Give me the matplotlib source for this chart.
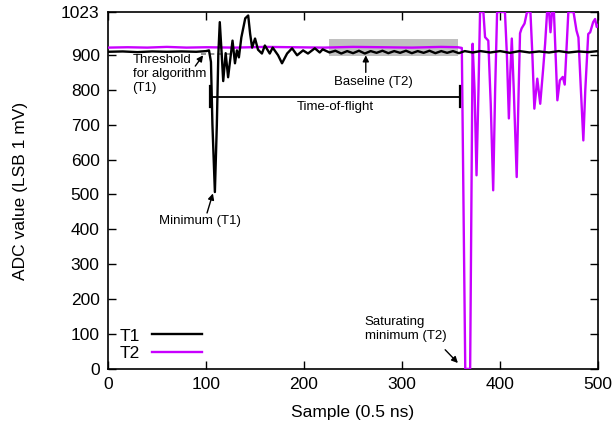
import matplotlib
matplotlib.use("Agg")
import matplotlib.pyplot as plt

plt.rcParams['font.family'] = ['Liberation Sans', 'DejaVu Sans']

# T1 trace (sample, ADC value)
t1_x = [0, 15, 30, 45, 60, 75, 90, 100, 103, 105, 106.5, 109, 111, 112.5, 114, 116, 117.5,
        120, 122.5, 127, 129.5, 131.5, 133.5, 136, 140, 143, 145, 147, 150, 153, 157, 160,
        165, 168, 173.5, 177.5, 182.7, 187.8, 192.9, 199, 204, 211, 216, 219, 226,
        232, 238, 244, 250, 256, 262, 268, 274, 280, 286, 292, 298, 304, 310, 316, 322,
        328, 334, 340, 346, 352, 358, 364, 372, 380, 390, 400, 410, 420, 430, 440, 450,
        460, 470, 480, 490, 500]
t1_y = [909, 910, 908, 910, 909, 910, 909, 911, 913, 880, 700, 507, 700, 900, 994, 900, 825,
        905, 836, 941, 876, 913, 893, 950, 1005, 1013, 960, 921, 947, 915, 904, 927,
        904, 921, 899, 876, 904, 919, 899, 913, 904, 919, 907, 916, 907,
        912, 904, 911, 905, 912, 904, 911, 906, 912, 905, 911, 906, 912, 905, 911, 906,
        912, 905, 911, 906, 911, 905, 911, 907, 911, 907, 911, 906, 911, 907, 910, 907,
        911, 907, 910, 908, 911]

# T2 trace
t2_x = [0, 20, 40, 60, 80, 100, 130, 160, 190, 220, 250, 280, 310, 340, 357, 361,
        364.5, 367, 369.5, 372, 374, 376, 378, 379.6, 383, 384.7, 388, 390.5, 393, 395,
        397, 405, 407, 409, 410.5, 412, 414, 417, 419, 420.4, 422, 425, 427.5, 431,
        433, 435, 438, 441, 444, 446, 448, 450, 451.5, 453, 455, 458.5, 461, 464, 466,
        469.7, 475, 478, 480, 482.5, 485, 487, 490, 492, 495, 497, 498.7, 500]
t2_y = [921, 922, 921, 923, 921, 922, 921, 923, 922, 921, 923, 922, 921, 923, 922, 920,
        0, 0, 0, 932, 800, 555, 800, 1023, 1023, 951, 941, 760, 512, 800,
        1023, 1023, 900, 718, 850, 947, 800, 550, 800, 962, 976, 990, 1023, 1023,
        900, 746, 832, 760, 860, 932, 1023, 1023, 965, 1023, 1023, 770, 827, 837, 815,
        1023, 1023, 970, 950, 800, 655, 800, 960, 965, 994, 1003, 980, 985]

x_ticks = [0, 100, 200, 300, 400, 500]
y_ticks = [0, 100, 200, 300, 400, 500, 600, 700, 800, 900, 1023]

# annotated features
baseline_box = (225, 357.5, 897, 947)   # x0, x1, y0, y1
threshold_level = 904
tof_start, tof_stop, tof_level = 104, 359, 780

fig = plt.figure(figsize=(6.14, 4.29), dpi=100)
ax = fig.add_axes([0.176, 0.140, 0.798, 0.832])

ax.axvspan(baseline_box[0], baseline_box[1], ymin=baseline_box[2] / 1023,
           ymax=baseline_box[3] / 1023, color='#c0c0c0', lw=0, zorder=1)
ax.plot([95, 131], [threshold_level, threshold_level], color='gray', lw=1.2,
        ls=(0, (3, 2)), zorder=2)

ax.plot(t2_x, t2_y, color='#c800ff', lw=1.7, label='T2', zorder=3)
ax.plot(t1_x, t1_y, color='black', lw=1.7, label='T1', zorder=4)

# time-of-flight bar
ax.plot([tof_start, tof_stop], [tof_level, tof_level], color='black', lw=1.3, zorder=5)
ax.plot([tof_start, tof_start], [tof_level - 30, tof_level + 30], color='black', lw=1.6, zorder=5)
ax.plot([tof_stop, tof_stop], [tof_level - 30, tof_level + 30], color='black', lw=1.6, zorder=5)
ax.text((tof_start + tof_stop) / 2, tof_level - 12, 'Time-of-flight', ha='center', va='top',
        fontsize=9.5)

arrow = dict(arrowstyle='-|>', color='black', lw=1.0, mutation_scale=9,
             shrinkA=0, shrinkB=0)
ax.annotate('', xy=(97, 899), xytext=(89, 868), arrowprops=arrow)
ax.text(25, 845, 'Threshold\nfor algorithm\n(T1)', ha='left', va='center',
        fontsize=9.5, linespacing=1.25)
ax.annotate('', xy=(107, 503), xytext=(101, 447), arrowprops=arrow)
ax.text(94, 424, 'Minimum (T1)', ha='center', va='center', fontsize=9.5)
ax.annotate('', xy=(263, 899), xytext=(263, 850), arrowprops=arrow)
ax.text(271, 822, 'Baseline (T2)', ha='center', va='center', fontsize=9.5)
ax.annotate('', xy=(357, 17), xytext=(344, 55), arrowprops=arrow)
ax.text(262, 115, 'Saturating\nminimum (T2)', ha='left', va='center', fontsize=9.5,
        linespacing=1.25)

ax.set_xlim(0, 500)
ax.set_ylim(0, 1023)
ax.set_xticks(x_ticks)
ax.set_yticks(y_ticks)
ax.tick_params(direction='in', length=5.5, width=1.0, top=True, right=True,
               labelsize=12.5, pad=6)
for s in ax.spines.values():
    s.set_linewidth(1.2)

ax.set_xlabel('Sample (0.5 ns)', fontsize=12.5, labelpad=9)
ax.set_ylabel('ADC value (LSB 1 mV)', fontsize=12.5, labelpad=24)

h, l = ax.get_legend_handles_labels()
ax.legend(h[::-1], l[::-1], loc='lower left', bbox_to_anchor=(0.005, -0.003),
          frameon=False, markerfirst=False, fontsize=12.5, handlelength=2.9,
          handletextpad=0.7, borderpad=0, labelspacing=0.15)

fig.savefig('out.png', dpi=100)
